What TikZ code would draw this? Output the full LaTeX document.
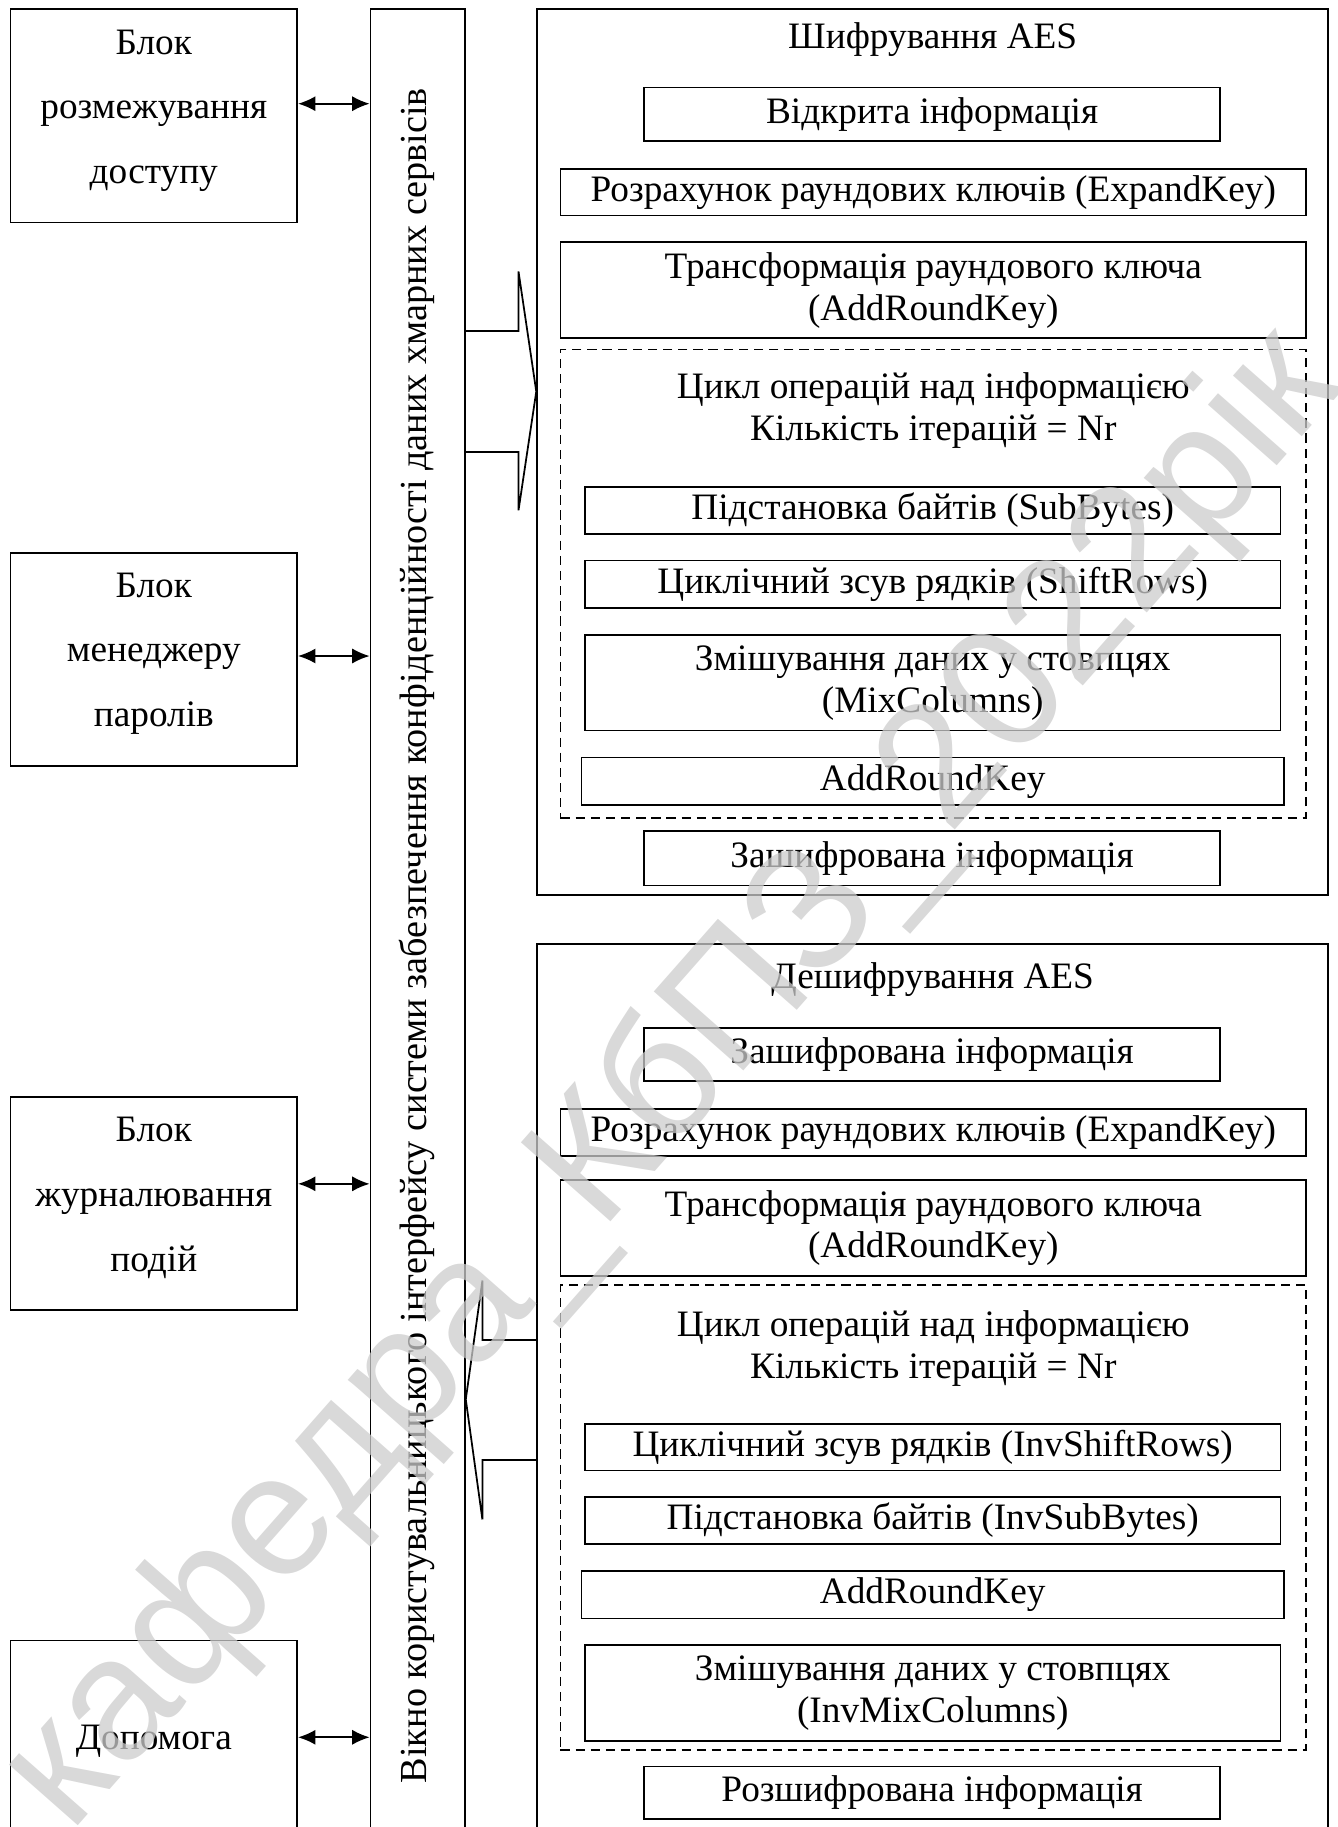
\documentclass[tikz,border=0pt]{standalone}
\usepackage{fontspec}
\setmainfont{Liberation Serif}
\newfontfamily\wmfont{Liberation Sans}
\usetikzlibrary{arrows.meta}
\begin{document}
\begin{tikzpicture}[x=1pt,y=-1pt,
  every node/.style={font=\fontsize{32}{36}\selectfont},
  box/.style={draw, line width=1.5pt, inner sep=0pt, align=center},
  loopbox/.style={draw, line width=1.3pt, dash pattern=on 8pt off 5pt, inner sep=0pt},
  lbl/.style={align=center, inner sep=0pt},
  sidelbl/.style={align=center, inner sep=0pt, font=\fontsize{32}{55.5}\selectfont},
  sidebox/.style={box, minimum width=246pt, minimum height=183pt},
  widebox/.style={box, minimum width=640pt},
  stepbox/.style={box, minimum width=597pt},
  infobox/.style={box, minimum width=494pt},
  link/.style={line width=1.6pt, {Latex[length=15pt,width=13pt]}-{Latex[length=15pt,width=13pt]}},
  bigarrow/.style={line width=1.5pt, line join=miter},
  wm/.style={font=\wmfont\fontsize{149}{149}\selectfont, text=black!20, text opacity=0.75, inner sep=0pt}
]
\useasboundingbox (0,0) rectangle (1148,1568);
\clip (0,0) rectangle (1148,1568);

% left column of service blocks
\node[sidebox] (acc) at (132,99.5) {};
\node[sidelbl] (acc-t) at (132,95) {Блок\\розмежування\\доступу};
\node[sidebox] (pwd) at (132,566) {};
\node[sidelbl] (pwd-t) at (132,561) {Блок\\менеджеру\\паролів};
\node[sidebox] (log) at (132,1033) {};
\node[sidelbl] (log-t) at (132,1028) {Блок\\журналювання\\подій};
\node[sidebox] (help) at (132,1499.5) {};
\node[sidelbl] (help-t) at (132,1494) {Допомога};

% user interface window
\node[box, minimum width=81pt, minimum height=1600pt] (win) at (358.5,808) {};
\node[lbl, rotate=90, font=\fontsize{32.8}{36}\selectfont] (win-t) at (358,803) {Вікно користувальницького інтерфейсу системи забезпечення конфіденційності даних хмарних сервісів};

% links between blocks and window
\draw[link] (acc.east |- 0,89) -- (win.west |- 0,89);
\draw[link] (pwd.east |- 0,563) -- (win.west |- 0,563);
\draw[link] (log.east |- 0,1016) -- (win.west |- 0,1016);
\draw[link] (help.east |- 0,1491) -- (win.west |- 0,1491);

% AES encryption
\node[box, minimum width=679pt, minimum height=760pt] (enc) at (800.5,388) {};
\node[lbl] (enc-t) at (800.5,34) {Шифрування AES};
\node[infobox, minimum height=46pt] (e-open) at (800,98) {Відкрита інформація};
\node[widebox, minimum height=40pt] (e-exp) at (801,165) {Розрахунок раундових ключів (ExpandKey)};
\node[widebox, minimum height=82pt] (e-ark) at (801,249) {Трансформація раундового ключа\\(AddRoundKey)};
\node[loopbox, minimum width=640pt, minimum height=402pt] (e-loop) at (801,501) {};
\node[lbl] (e-loop-t) at (801,352) {Цикл операцій над інформацією\\Кількість ітерацій = Nr};
\node[stepbox, minimum height=40pt] (e-sub) at (800.5,438) {Підстановка байтів (SubBytes)};
\node[stepbox, minimum height=41pt] (e-shift) at (800.5,501.5) {Циклічний зсув рядків (ShiftRows)};
\node[stepbox, minimum height=82pt] (e-mix) at (800.5,586) {Змішування даних у стовпцях\\(MixColumns)};
\node[box, minimum width=603pt, minimum height=41pt] (e-ark2) at (800.5,670.5) {AddRoundKey};
\node[infobox, minimum height=47pt] (e-out) at (800,736.5) {Зашифрована інформація};

% AES decryption
\node[box, minimum width=679pt, minimum height=800pt] (dec) at (800.5,1210) {};
\node[lbl] (dec-t) at (800.5,841) {Дешифрування AES};
\node[infobox, minimum height=46pt] (d-in) at (800,905) {Зашифрована інформація};
\node[widebox, minimum height=40pt] (d-exp) at (801,972) {Розрахунок раундових ключів (ExpandKey)};
\node[widebox, minimum height=82pt] (d-ark) at (801,1054) {Трансформація раундового ключа\\(AddRoundKey)};
\node[loopbox, minimum width=640pt, minimum height=399pt] (d-loop) at (801,1302.5) {};
\node[lbl] (d-loop-t) at (801,1157) {Цикл операцій над інформацією\\Кількість ітерацій = Nr};
\node[stepbox, minimum height=40pt] (d-shift) at (800.5,1242) {Циклічний зсув рядків (InvShiftRows)};
\node[stepbox, minimum height=40pt] (d-sub) at (800.5,1305) {Підстановка байтів (InvSubBytes)};
\node[box, minimum width=603pt, minimum height=41pt] (d-ark2) at (800.5,1368.5) {AddRoundKey};
\node[stepbox, minimum height=82pt] (d-mix) at (800.5,1453) {Змішування даних у стовпцях\\(InvMixColumns)};
\node[infobox, minimum height=45pt] (d-out) at (800,1538.5) {Розшифрована інформація};

% block arrows between window and AES units
\draw[bigarrow] (win.east |- 0,284) -- (445,284) -- (445,233) -- (enc.west |- 0,336)
  -- (445,438) -- (445,388) -- (win.east |- 0,388);
\draw[bigarrow] (dec.west |- 0,1150) -- (414,1150) -- (414,1099) -- (win.east |- 0,1201)
  -- (414,1304) -- (414,1253) -- (dec.west |- 0,1253);

% department watermark
\node[wm, rotate=48.6] (mark) at (578,928) {кафедра\_КбПЗ\_2022рік};
\end{tikzpicture}
\end{document}
